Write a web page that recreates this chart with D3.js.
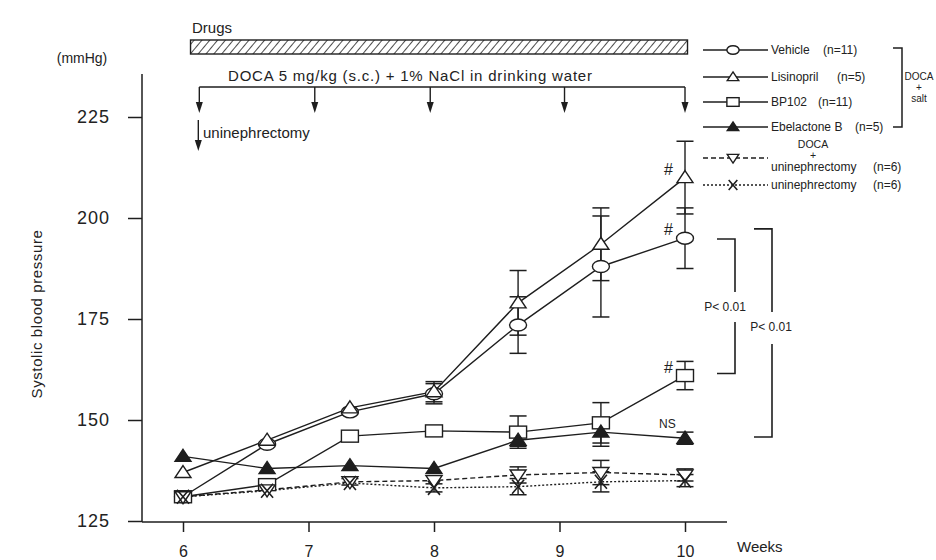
<!DOCTYPE html>
<html>
<head>
<meta charset="utf-8">
<script src="https://cdn.jsdelivr.net/npm/d3@7"></script>
<style>
  body { margin: 0; background: #fff; }
  svg text { font-family: "Liberation Sans", Arial, sans-serif; fill: #222; }
</style>
</head>
<body>
<svg id="chart" width="936" height="560"></svg>
<script>
// data (mmHg)
const weeks = [6, 6.67, 7.33, 8, 8.67, 9.33, 10];
const vehicle = [131, 144, 152, 156.5, 173.5, 188, 195];
const vehicleSem = [0, 0, 0, 2.5, 7, 12.5, 7.5];
const lisinopril = [137, 145, 153, 157, 179, 193.5, 210];
const lisinoprilSem = [0, 0, 0, 2.5, 8, 9, 9];
const bp102 = [131, 134, 146, 147.3, 147, 149.3, 161];
const bp102Sem = [0, 0, 0, 0, 4, 5, 3.5];
const ebelactone = [141, 138, 138.7, 138, 145, 147, 145.5];
const ebelactoneSem = [0, 0, 0, 0, 1.5, 3.5, 1.5];
const docaUnx = [131, 132.7, 134.7, 135, 136.4, 137, 136.4];
const docaUnxSem = [0, 0, 0.8, 0, 2, 3, 1.5];
const unx = [131, 132.5, 134.4, 133.2, 133.5, 134.7, 135];
const unxSem = [0, 0, 0, 1, 2, 2.5, 1.5];

const yTicks = [125, 150, 175, 200, 225];
const xTicks = [6, 7, 8, 9, 10];
const doseWeeks = [6.13, 7.05, 7.97, 9.04, 10];
const drugSpan = [6.06, 10.02];

const series = [
  { name: "Vehicle", n: "(n=11)", vals: vehicle, sem: vehicleSem, mark: "circle", dash: null },
  { name: "Lisinopril", n: "(n=5)", vals: lisinopril, sem: lisinoprilSem, mark: "tri", dash: null },
  { name: "BP102", n: "(n=11)", vals: bp102, sem: bp102Sem, mark: "square", dash: null },
  { name: "Ebelactone B", n: "(n=5)", vals: ebelactone, sem: ebelactoneSem, mark: "trifill", dash: null },
  { name: "uninephrectomy", n: "(n=6)", vals: docaUnx, sem: docaUnxSem, mark: "tridown", dash: "5,3" },
  { name: "uninephrectomy", n: "(n=6)", vals: unx, sem: unxSem, mark: "x", dash: "2,2" }
];

const ink = "#1e1e1e";
const svg = d3.select("#chart");

const x = d3.scaleLinear().domain([6, 10]).range([183, 685]);
const y = d3.scaleLinear().domain([125, 225]).range([521, 117]);

// hatch pattern for the drugs bar
const pat = svg.append("defs").append("pattern")
  .attr("id", "hatch").attr("patternUnits", "userSpaceOnUse")
  .attr("width", 6).attr("height", 6)
  .attr("patternTransform", "rotate(40)");
pat.append("line").attr("x1", 0).attr("y1", 0).attr("x2", 0).attr("y2", 6)
  .attr("stroke", ink).attr("stroke-width", 1.6);

// axes
const yAxis = svg.append("g").attr("transform", "translate(142,0)")
  .call(d3.axisLeft(y).tickValues(yTicks).tickSize(14).tickPadding(18));
yAxis.select(".domain").remove();
yAxis.selectAll("line").attr("stroke", ink).attr("stroke-width", 1.5);
yAxis.selectAll("text").attr("font-size", 18).attr("letter-spacing", 1)
  .attr("fill", "#333").attr("font-family", "Liberation Sans, Arial, sans-serif");

svg.append("line").attr("x1", 142).attr("x2", 142).attr("y1", 74).attr("y2", 522)
  .attr("stroke", ink).attr("stroke-width", 1.5);

const xAxis = svg.append("g").attr("transform", "translate(0,522)")
  .call(d3.axisBottom(x).tickValues(xTicks).tickFormat(d3.format("d"))
    .tickSize(10).tickPadding(14));
xAxis.select(".domain").remove();
xAxis.selectAll("line").attr("stroke", ink).attr("stroke-width", 1.5);
xAxis.selectAll("text").attr("font-size", 16).attr("fill", "#333")
  .attr("font-family", "Liberation Sans, Arial, sans-serif");

svg.append("line").attr("x1", 142).attr("x2", 727).attr("y1", 522).attr("y2", 522)
  .attr("stroke", ink).attr("stroke-width", 1.5);

svg.append("text").attr("x", 737).attr("y", 552).attr("font-size", 15).text("Weeks");
svg.append("text").attr("x", 82).attr("y", 63).attr("font-size", 14)
  .attr("text-anchor", "middle").text("(mmHg)");
svg.append("text").attr("transform", "translate(42,314) rotate(-90)")
  .attr("text-anchor", "middle").attr("font-size", 15).attr("letter-spacing", 0.6)
  .text("Systolic  blood  pressure");

// drugs bar + DOCA schedule
svg.append("text").attr("x", 192).attr("y", 33).attr("font-size", 15).text("Drugs");
svg.append("rect").attr("x", x(drugSpan[0])).attr("y", 40)
  .attr("width", x(drugSpan[1]) - x(drugSpan[0])).attr("height", 14)
  .attr("fill", "url(#hatch)").attr("stroke", ink).attr("stroke-width", 1.4);

svg.append("text").attr("x", 228).attr("y", 81).attr("font-size", 15).attr("letter-spacing", 0.8)
  .text("DOCA  5 mg/kg  (s.c.) + 1% NaCl in drinking water");
svg.append("line").attr("x1", x(doseWeeks[0])).attr("x2", x(doseWeeks[doseWeeks.length - 1]))
  .attr("y1", 87).attr("y2", 87).attr("stroke", ink).attr("stroke-width", 1.5);

function arrow(px, y0, y1) {
  svg.append("line").attr("x1", px).attr("x2", px).attr("y1", y0).attr("y2", y1 - 6)
    .attr("stroke", ink).attr("stroke-width", 1.4);
  svg.append("path").attr("d", `M${px - 3.5},${y1 - 11}L${px + 3.5},${y1 - 11}L${px},${y1}Z`)
    .attr("fill", ink);
}
doseWeeks.forEach(w => arrow(x(w), 87, 113));
arrow(x(doseWeeks[0]) - 1, 120, 151);
svg.append("text").attr("x", 203).attr("y", 138).attr("font-size", 15).text("uninephrectomy");

// markers
function marker(g, type, cx, cy, k = 1) {
  if (type === "circle") {
    g.append("ellipse").attr("cx", cx).attr("cy", cy).attr("rx", 8.5 * k).attr("ry", 6 * k)
      .attr("fill", "#fff").attr("stroke", ink).attr("stroke-width", 1.4);
  } else if (type === "square") {
    g.append("rect").attr("x", cx - 8.5 * k).attr("y", cy - 6 * k)
      .attr("width", 17 * k).attr("height", 12 * k)
      .attr("fill", "#fff").attr("stroke", ink).attr("stroke-width", 1.4);
  } else if (type === "tri" || type === "trifill") {
    g.append("path").attr("d", `M${cx},${cy - 7 * k}L${cx + 8 * k},${cy + 5 * k}L${cx - 8 * k},${cy + 5 * k}Z`)
      .attr("fill", type === "tri" ? "#fff" : ink).attr("stroke", ink).attr("stroke-width", 1.4);
  } else if (type === "tridown") {
    g.append("path").attr("d", `M${cx},${cy + 7 * k}L${cx + 8 * k},${cy - 5 * k}L${cx - 8 * k},${cy - 5 * k}Z`)
      .attr("fill", "#fff").attr("stroke", ink).attr("stroke-width", 1.4);
  } else if (type === "x") {
    g.append("path").attr("d", `M${cx - 6 * k},${cy - 7 * k}L${cx + 6 * k},${cy + 7 * k}M${cx + 6 * k},${cy - 7 * k}L${cx - 6 * k},${cy + 7 * k}`)
      .attr("stroke", ink).attr("stroke-width", 1.6).attr("fill", "none");
  }
}

const line = d3.line().x((d, i) => x(weeks[i])).y(d => y(d));
const plot = svg.append("g");

// lines and error bars first, markers on top
series.forEach(s => {
  plot.append("path").datum(s.vals).attr("d", line)
    .attr("fill", "none").attr("stroke", ink).attr("stroke-width", 1.4)
    .attr("stroke-dasharray", s.dash);
  s.vals.forEach((v, i) => {
    if (!s.sem[i]) return;
    const px = x(weeks[i]), lo = y(v - s.sem[i]), hi = y(v + s.sem[i]);
    plot.append("line").attr("x1", px).attr("x2", px).attr("y1", lo).attr("y2", hi)
      .attr("stroke", ink).attr("stroke-width", 1.4);
    [lo, hi].forEach(yy => plot.append("line").attr("x1", px - 8.5).attr("x2", px + 8.5)
      .attr("y1", yy).attr("y2", yy).attr("stroke", ink).attr("stroke-width", 1.5));
  });
});
series.forEach(s => s.vals.forEach((v, i) => marker(plot, s.mark, x(weeks[i]), y(v))));

// significance marks at week 10
const last = weeks.length - 1;
[lisinopril, vehicle, bp102].forEach(vals => {
  svg.append("text").attr("x", x(10) - 12).attr("y", y(vals[last]) - 3)
    .attr("font-size", 16).attr("text-anchor", "end").text("#");
});
svg.append("text").attr("x", x(10) - 26).attr("y", y(ebelactone[last]) - 10)
  .attr("font-size", 12).text("NS");

// p-value brackets
function bracket(bx, top, bottom, gapTop, gapBottom, label, lx, ly) {
  const p = `M${bx - 18},${top}H${bx}V${gapTop}M${bx},${gapBottom}V${bottom}H${bx - 18}`;
  svg.append("path").attr("d", p).attr("fill", "none").attr("stroke", ink).attr("stroke-width", 1.6);
  svg.append("text").attr("x", lx).attr("y", ly).attr("font-size", 12)
    .attr("text-anchor", "middle").text(label);
}
bracket(735, y(194.8), y(161.5), 292, 322, "P< 0.01", 725, 311);
bracket(772, y(197.3), y(145.8), 312, 344, "P< 0.01", 771, 331);

// legend
const legY = [50, 77, 102, 127, 158, 185];
const legNx = [823, 837, 818, 855, 873, 873];
const legend = svg.append("g");
series.forEach((s, i) => {
  const ly = legY[i];
  legend.append("line").attr("x1", 703).attr("x2", 768).attr("y1", ly).attr("y2", ly)
    .attr("stroke", ink).attr("stroke-width", 1.4).attr("stroke-dasharray", s.dash);
  marker(legend, s.mark, 733, ly, 0.72);
  const ty = i === 4 ? 171 : ly + 4;
  legend.append("text").attr("x", 771).attr("y", ty).attr("font-size", 12).text(s.name);
  legend.append("text").attr("x", legNx[i]).attr("y", ty).attr("font-size", 12).text(s.n);
});
legend.append("text").attr("x", 813).attr("y", 148).attr("font-size", 10.5)
  .attr("text-anchor", "middle").text("DOCA");
legend.append("text").attr("x", 813).attr("y", 159).attr("font-size", 10.5)
  .attr("text-anchor", "middle").text("+");
legend.append("path").attr("d", "M893,48H902V127H893")
  .attr("fill", "none").attr("stroke", ink).attr("stroke-width", 1.5);
legend.append("text").attr("x", 919).attr("y", 80).attr("font-size", 10)
  .attr("text-anchor", "middle").text("DOCA");
legend.append("text").attr("x", 919).attr("y", 91).attr("font-size", 10)
  .attr("text-anchor", "middle").text("+");
legend.append("text").attr("x", 919).attr("y", 102).attr("font-size", 10)
  .attr("text-anchor", "middle").text("salt");
</script>
</body>
</html>
